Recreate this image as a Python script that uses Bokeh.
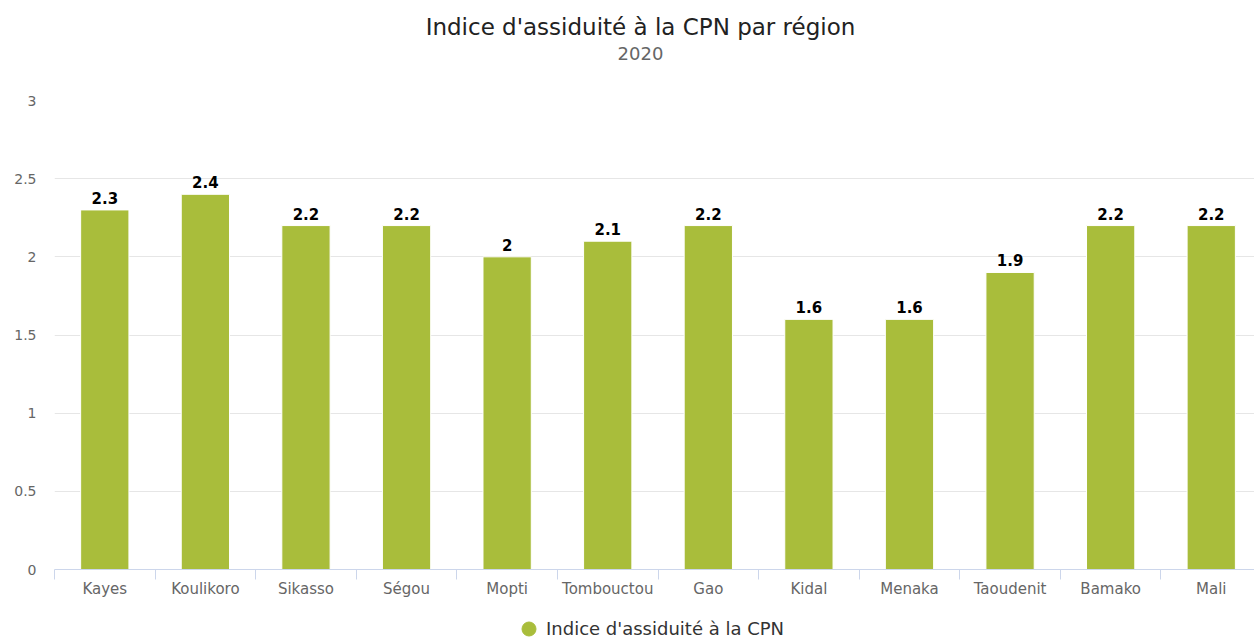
import numpy as np
from bokeh.plotting import figure
from bokeh.layouts import column
from bokeh.models import (ColumnDataSource, Range1d, FixedTicker, Legend,
                          LegendItem)
from bokeh.embed import file_html
from bokeh.resources import INLINE
from bokeh.core.properties import value

categories = ["Kayes", "Koulikoro", "Sikasso", "Ségou", "Mopti", "Tombouctou",
              "Gao", "Kidal", "Menaka", "Taoudenit", "Bamako", "Mali"]
values = [2.3, 2.4, 2.2, 2.2, 2.0, 2.1, 2.2, 1.6, 1.6, 1.9, 2.2, 2.2]
y_ticks = [0, 0.5, 1, 1.5, 2, 2.5, 3]
y_tick_labels = ["0", "0.5", "1", "1.5", "2", "2.5", "3"]
title_text = "Indice d'assiduité à la CPN par région"
subtitle_text = "2020"
series_name = "Indice d'assiduité à la CPN"

BAR = "#a9bd3b"
FONT = "DejaVu Sans"
W = 1254
LEFT = 54  # frame left edge (all stacked figures share it)

# ---------- header (title + subtitle) ----------
HEAD_H = 70
head = figure(width=W, height=HEAD_H, output_backend="svg", toolbar_location=None,
              x_range=Range1d(LEFT, W), y_range=Range1d(HEAD_H, 0),
              min_border=0, min_border_left=LEFT, outline_line_color=None)
head.axis.visible = False
head.grid.visible = False
head.text(x=[640], y=[26], text=[title_text], text_align="center",
          text_baseline="middle", text_font=value(FONT), text_font_size="23px",
          text_color="#222222")
head.text(x=[640], y=[53], text=[subtitle_text], text_align="center",
          text_baseline="middle", text_font=value(FONT), text_font_size="18px",
          text_color="#666666")

# ---------- main chart ----------
pos = [i + 0.5 for i in range(len(categories))]
labels = [f"{v:g}" for v in values]
src = ColumnDataSource(dict(x=pos, top=values, label=labels, cat=categories))

LEG_H = 36
MAIN_H = 638 - HEAD_H - LEG_H
p = figure(width=W, height=MAIN_H, output_backend="svg", toolbar_location=None,
           title=None, x_range=Range1d(0, len(categories) - 0.07),
           y_range=Range1d(0, 3),
           min_border_left=LEFT, min_border_right=0, min_border_top=30,
           min_border_bottom=MAIN_H - 30 - 469)
p.outline_line_color = None

p.vbar(x="x", top="top", bottom=0, width=0.48, source=src,
       fill_color=BAR, line_color="white", line_width=1)

p.text(x="x", y="top", text="label", source=src, text_align="center",
       text_baseline="bottom", y_offset=-6, text_font=value(FONT),
       text_font_style="bold", text_font_size="15px", text_color="#000000")

xa = p.xaxis[0]
xa.ticker = FixedTicker(ticks=pos, minor_ticks=list(range(len(categories) + 1)))
xa.major_label_overrides = {x: c for x, c in zip(pos, categories)}
xa.major_tick_line_color = None
xa.major_tick_out = 0
xa.major_tick_in = 0
xa.minor_tick_line_color = "#ccd6eb"
xa.minor_tick_out = 10
xa.minor_tick_in = 0
xa.axis_line_color = "#ccd6eb"
xa.major_label_standoff = 0
xa.major_label_text_font = FONT
xa.major_label_text_font_size = "15px"
xa.major_label_text_color = "#666666"

ya = p.yaxis[0]
ya.ticker = FixedTicker(ticks=y_ticks)
ya.major_label_overrides = {t: l for t, l in zip(y_ticks, y_tick_labels)}
ya.axis_line_color = None
ya.major_tick_line_color = None
ya.minor_tick_line_color = None
ya.major_tick_out = 0
ya.major_tick_in = 0
ya.major_label_standoff = 18
ya.major_label_text_font = FONT
ya.major_label_text_font_size = "14px"
ya.major_label_text_color = "#666666"

p.xgrid.visible = False
p.ygrid.grid_line_color = "#e6e6e6"
p.ygrid.grid_line_width = 1

# ---------- legend strip ----------
lf = figure(width=W, height=LEG_H, output_backend="svg", toolbar_location=None,
            x_range=Range1d(0, 1), y_range=Range1d(0, 1),
            min_border=0, min_border_left=LEFT, outline_line_color=None)
lf.axis.visible = False
lf.grid.visible = False
dummy = lf.scatter(x=[np.nan], y=[np.nan], marker="circle", size=14,
                   fill_color=BAR, line_color=BAR)
legend = Legend(items=[LegendItem(label=series_name, renderers=[dummy])],
                location=(457, -8), orientation="horizontal",
                border_line_color=None, background_fill_alpha=0,
                label_text_font=FONT, label_text_font_size="18px",
                label_text_color="#333333", glyph_width=35, glyph_height=35,
                label_height=20, padding=0, margin=0, label_standoff=-3)
lf.add_layout(legend)

layout = column(head, p, lf, spacing=0)
open("out.html", "w").write(file_html(layout, INLINE))
